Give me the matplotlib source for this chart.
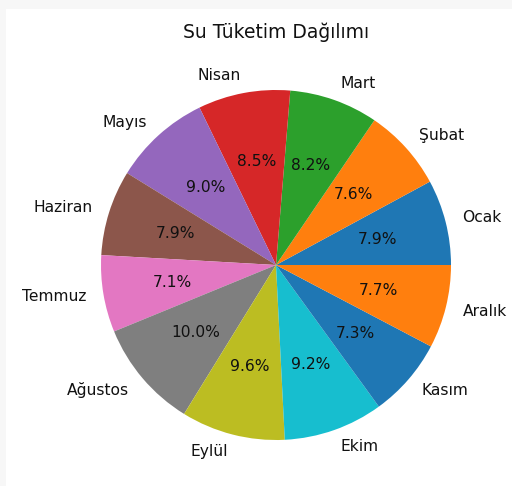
import matplotlib
matplotlib.use("Agg")
import matplotlib.pyplot as plt
from matplotlib.patches import Rectangle

plt.rcParams["font.family"] = ["DejaVu Sans"]

months = ["Ocak", "Şubat", "Mart", "Nisan", "Mayıs", "Haziran",
          "Temmuz", "Ağustos", "Eylül", "Ekim", "Kasım", "Aralık"]
shares = [7.9, 7.6, 8.2, 8.5, 9.0, 7.9, 7.1, 10.0, 9.6, 9.2, 7.3, 7.7]
title = "Su Tüketim Dağılımı"

W, H = 512, 486
fig = plt.figure(figsize=(W / 100, H / 100), dpi=100)
fig.patch.set_facecolor("#f7f7f7")
fig.patches.append(Rectangle((6 / W, 0), 1, 1 - 9 / H, transform=fig.transFigure,
                             facecolor="white", edgecolor="none", zorder=-1))

R = 175.0
cx, cy = 276.0, H - 265.0
L = 1.25
side = 2 * L * R
ax = fig.add_axes([(cx - side / 2) / W, (cy - side / 2) / H, side / W, side / H])
ax.pie(shares, labels=months, autopct="%1.1f%%",
       textprops={"fontsize": 11.2, "color": "#111111"})
ax.set_xlim(-L, L)
ax.set_ylim(-L, L)
ax.set_aspect("equal")
ax.axis("off")

fig.text(cx / W, 1 - 32 / H, title, ha="center", va="center", fontsize=13.5, color="#111111")

fig.savefig("out.png", dpi=100)
